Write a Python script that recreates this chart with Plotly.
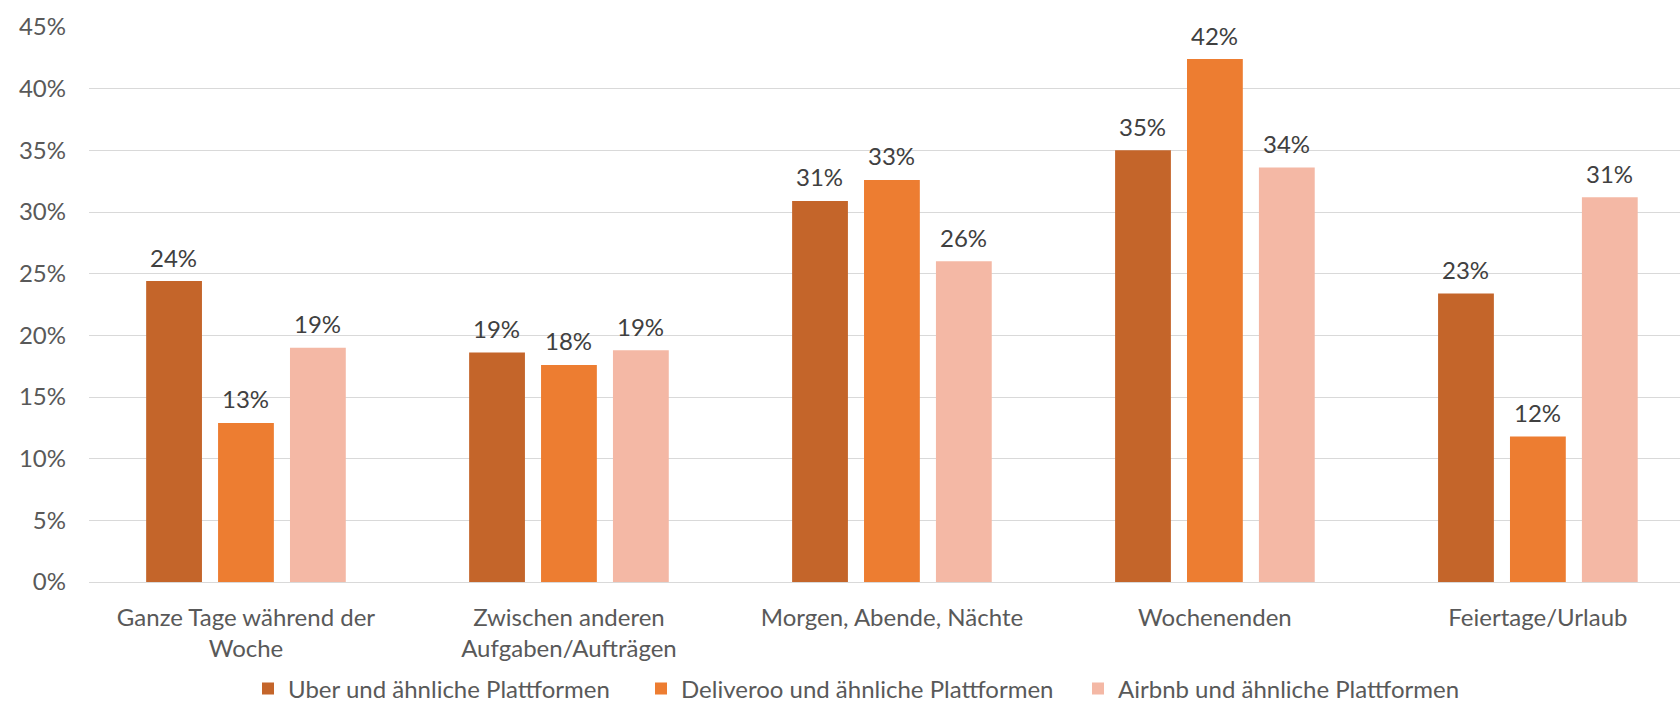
import plotly.graph_objects as go

categories = [
    "Ganze Tage während der<br>Woche",
    "Zwischen anderen<br>Aufgaben/Aufträgen",
    "Morgen, Abende, Nächte",
    "Wochenenden",
    "Feiertage/Urlaub",
]
series_names = [
    "Uber und ähnliche Plattformen",
    "Deliveroo und ähnliche Plattformen",
    "Airbnb und ähnliche Plattformen",
]
uber = [0.244, 0.186, 0.309, 0.350, 0.234]
deliveroo = [0.129, 0.176, 0.326, 0.424, 0.118]
airbnb = [0.190, 0.188, 0.260, 0.336, 0.312]
y_ticks = [0, 0.05, 0.10, 0.15, 0.20, 0.25, 0.30, 0.35, 0.40, 0.45]

colors = ["#C4652A", "#ED7D31", "#F4B8A5"]
FONT = "Lato"
series = [uber, deliveroo, airbnb]
legend_ids = ["legend", "legend2", "legend3"]
legend_x_px = [248, 641, 1078]

fig = go.Figure()
for name, vals, col, lid in zip(series_names, series, colors, legend_ids):
    fig.add_trace(go.Bar(
        x=categories, y=vals, name=name, legend=lid,
        marker=dict(color=col, line=dict(width=0)),
        hoverinfo="skip",
    ))

slot_px = 72
annotations = []
for si, vals in enumerate(series):
    for cat, v in zip(categories, vals):
        annotations.append(dict(
            x=cat, y=v, xref="x", yref="y",
            text=f"{round(v*100):.0f}%",
            showarrow=False, xshift=(si - 1) * slot_px,
            yanchor="middle", yshift=24,
            font=dict(family=FONT, size=24, color="#404040"),
        ))

legend_style = dict(
    orientation="h", xref="container", xanchor="left",
    yref="container", y=17 / 706, yanchor="middle",
    font=dict(family=FONT, size=24, color="#595959"),
    itemwidth=30, bgcolor="rgba(0,0,0,0)",
)
layout_legends = {}
for lid, lx in zip(legend_ids, legend_x_px):
    layout_legends[lid] = dict(legend_style, x=lx / 1680)

fig.update_layout(
    width=1680, height=706,
    margin=dict(l=89, r=0, t=27, b=124),
    paper_bgcolor="white", plot_bgcolor="white",
    barmode="group", bargap=0.332, bargroupgap=0.224,
    font=dict(family=FONT, size=24, color="#595959"),
    showlegend=True,
    annotations=annotations,
    **layout_legends,
)
fig.update_xaxes(
    type="category", range=[-0.486, 4.44],
    showgrid=False, showline=True, linecolor="#D9D9D9", linewidth=1,
    ticks="", ticklabelstandoff=14,
    tickfont=dict(family=FONT, size=24, color="#595959"),
    zeroline=False,
)
fig.update_yaxes(
    range=[0, 0.45], tickvals=y_ticks, tickformat=".0%",
    showgrid=True, gridcolor="#D9D9D9", gridwidth=1,
    zeroline=False, showline=False, ticks="",
    ticklabelstandoff=22,
    tickfont=dict(family=FONT, size=24, color="#595959"),
)

fig.write_html("out.html")
